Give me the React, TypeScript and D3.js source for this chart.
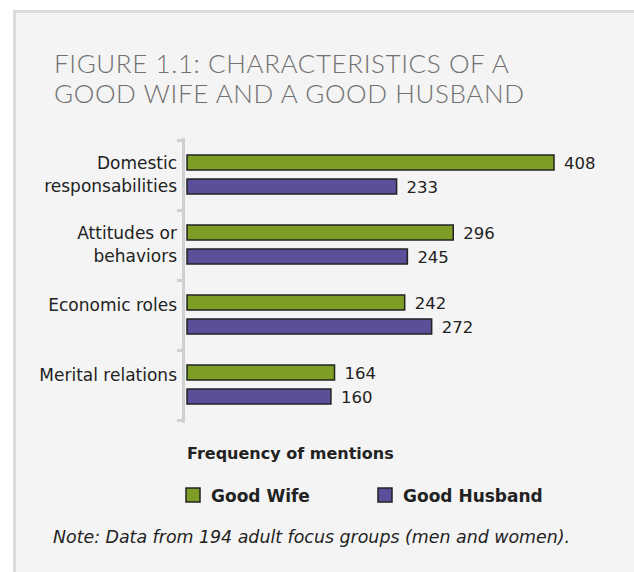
import React from 'react';
import * as d3 from 'd3';

// chart data
const categories = ['Domestic responsabilities', 'Attitudes or behaviors', 'Economic roles', 'Merital relations'];
const categoryLines = [['Domestic', 'responsabilities'], ['Attitudes or', 'behaviors'], ['Economic roles'], ['Merital relations']];
const seriesNames = ['Good Wife', 'Good Husband'];
const goodWife = [408, 296, 242, 164];
const goodHusband = [233, 245, 272, 160];
const seriesColors = ['#7d9d24', '#5b4f9a'];

const W = 634;
const H = 572;
const TITLE_FONT = 'Lato, "Open Sans", sans-serif';
const FONT = '"DejaVu Sans", Lato, sans-serif';

const App = () => {
  const values = [goodWife, goodHusband];

  // scales
  const x = d3.scaleLinear().domain([0, 408]).range([187, 554]);
  const y = d3.scaleBand().domain(categories).range([140, 420]).padding(0);
  const inner = d3.scaleBand().domain(seriesNames).range([15, 54]).paddingInner(0.375).paddingOuter(0);

  const tickYs = [...categories.map((c) => y(c) as number), 420];

  return (
    <svg width={W} height={H} style={{ display: 'block', position: 'absolute', left: 0, top: 0 }}>
      <rect x={0} y={0} width={W} height={H} fill="#ffffff" />
      {/* panel */}
      <rect x={13} y={10} width={W - 13} height={H - 10} fill="#dadada" />
      <rect x={16} y={13} width={W - 16} height={H - 13} fill="#f4f4f4" />

      {/* title */}
      <g fontFamily={TITLE_FONT} fontWeight={300} fontSize={26} fill="#707070" letterSpacing={0.6}>
        <text x={54} y={73}>FIGURE 1.1: CHARACTERISTICS OF A</text>
        <text x={54} y={103}>GOOD WIFE AND A GOOD HUSBAND</text>
      </g>

      {/* axis */}
      <rect x={182} y={138} width={3} height={285} fill="#d0d0d0" />
      {tickYs.map((t, i) => (
        <rect key={i} x={177} y={t - 1} width={6} height={3} fill="#d0d0d0" />
      ))}

      {/* category labels */}
      <g fontFamily={FONT} fontSize={17} fill="#222" textAnchor="end">
        {categories.map((c, i) => {
          const lines = categoryLines[i];
          const band = y(c) as number;
          if (lines.length === 2) {
            const mid = band + y.bandwidth() / 2;
            return (
              <g key={c}>
                <text x={177} y={mid - 12} dy="0.35em">{lines[0]}</text>
                <text x={177} y={mid + 11} dy="0.35em">{lines[1]}</text>
              </g>
            );
          }
          const mid = band + (inner(seriesNames[0]) as number) + inner.bandwidth() / 2 + 3;
          return (
            <text key={c} x={177} y={mid} dy="0.35em">{lines[0]}</text>
          );
        })}
      </g>

      {/* bars */}
      {categories.map((c, i) => (
        <g key={c} transform={`translate(0,${y(c)})`}>
          {seriesNames.map((s, j) => {
            const v = values[j][i];
            const by = inner(s) as number;
            return (
              <g key={s}>
                <rect
                  x={x(0)}
                  y={by}
                  width={x(v) - x(0)}
                  height={inner.bandwidth()}
                  fill={seriesColors[j]}
                  stroke="#222"
                  strokeWidth={1.5}
                />
                <text
                  x={x(v) + 10}
                  y={by + inner.bandwidth() / 2 + 1}
                  dy="0.35em"
                  fontFamily={FONT}
                  fontSize={16.5}
                  fill="#222"
                >
                  {v}
                </text>
              </g>
            );
          })}
        </g>
      ))}

      {/* axis title */}
      <text x={187} y={459} fontFamily={FONT} fontWeight={700} fontSize={16} fill="#222">
        Frequency of mentions
      </text>

      {/* legend */}
      {seriesNames.map((s, j) => {
        const lx = j === 0 ? 186 : 378;
        return (
          <g key={s}>
            <rect x={lx} y={488} width={14} height={14} fill={seriesColors[j]} stroke="#222" strokeWidth={1.5} />
            <text x={lx + 25} y={502} fontFamily={FONT} fontWeight={700} fontSize={17} fill="#222">
              {s}
            </text>
          </g>
        );
      })}

      {/* note */}
      <text x={53} y={543} fontFamily={FONT} fontStyle="italic" fontSize={17.4} fill="#222">
        Note: Data from 194 adult focus groups (men and women).
      </text>
    </svg>
  );
};

export default App;
